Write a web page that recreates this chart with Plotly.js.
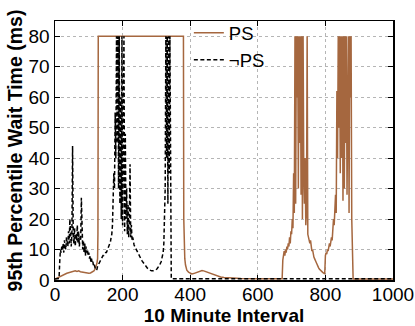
<!DOCTYPE html>
<html>
<head>
<meta charset="utf-8">
<script src="https://cdn.plot.ly/plotly-3.0.1.min.js"></script>
<style>html,body{margin:0;padding:0;background:#fff;}#chart{width:415px;height:326px;}</style>
</head>
<body>
<div id="chart"></div>
<script>
// PS series (brown, solid)
const psX = [0,5,10,15,20,25,30,35,40,45,50,55,60,65,70,75,80,85,90,95,100,105,110,115,118,121,124,126,127,128,
  200,300,380,381,382,384,386,388,390,395,400,405,410,415,420,425,430,435,440,445,450,460,470,480,490,500,520,550,600,650,672,
  674,676,678,680,682,684,686,688,690,692,694,696,698,700,702,704,706,708,710,712,714,716,718,720,722,724,726,728,730,732,734,736,738,740,742,744,746,748,750,
  752,754,756,758,760,762,764,766,768,770,772,774,776,778,780,782,784,786,788,790,792,794,796,798,
  800,802,804,806,808,810,812,814,816,818,820,822,824,826,828,830,832,834,836,838,840,842,844,846,848,850,852,854,856,858,860,862,864,866,868,870,872,874,876,878,880,882,
  900,950,1000];
const psY = [0.3,0.6,0.9,1.2,1.5,1.8,2.0,2.2,2.4,2.6,2.8,2.9,3.0,2.8,3.0,2.7,2.6,2.5,2.3,2.2,2.2,2.3,2.6,3.0,3.5,4.5,5.5,7,15,80,
  80,80,80,20,9,7,5,3.8,3.2,2.6,2.2,2.0,2.1,2.3,2.6,2.8,3.0,3.1,3.0,2.8,2.5,2.0,1.6,1.2,1.0,0.8,0.6,0.5,0.45,0.4,0.4,
  6.5,8,9.5,8,10,9,11,10,12,11,14,12,16,15,20,17,35,22,80,25,80,60,80,30,80,45,80,28,80,20,80,35,25,40,18,22,80,15,14,
  13,12,13,10,9.5,10,8,7.5,7,6,6,5.5,4.8,4.5,4,3.6,3.3,3,2.8,2.6,2.5,2.3,2.2,2.0,
  8,9,8.5,10,9.5,11,12,11,13,14,13,17,20,18,25,28,22,62,40,80,50,80,35,80,40,80,26,80,30,80,45,80,28,80,80,22,80,60,80,20,7,0.3,
  0.3,0.3,0.3];

// not-PS series (black, dashed)
const npsX = [0,5,10,12,14,16,18,20,22,24,26,28,30,32,34,36,38,40,42,44,46,48,50,52,54,56,58,60,62,64,66,68,70,72,74,76,78,80,82,84,86,88,90,92,94,96,98,
  100,102,104,106,108,110,112,114,116,118,120,122,124,126,128,130,132,134,136,138,140,142,144,146,148,150,152,154,156,158,160,162,164,166,168,170,
  172,174,176,178,180,182,184,186,188,190,192,194,196,198,200,202,204,206,208,210,212,214,216,218,220,222,224,226,228,230,
  232,234,236,238,240,242,244,246,248,250,254,258,262,266,270,274,278,282,286,290,294,298,302,306,310,314,318,320,322,324,
  326,328,330,332,334,336,338,340,342,343,344,400,500,600,700,800,900,1000];
const npsY = [0.3,0.3,0.4,0.5,6,10,9,11,10,12,9,13,11,10,14,12,11,16,12,20,13,11,15,44,14,12,17,11,15,13,18,12,16,11,14,13,27,12,10,13,9,12,8,11,9,10,8,
  9,7,8,6,7,5.5,6,4.5,5,4,3.5,3.2,3.5,4.5,5,5.5,5.5,6.5,6.5,7,7.5,8,8,8.5,8.5,9,9,9.5,10,10.5,11,12,12.5,14,15,18,
  24,35,30,55,40,80,45,80,30,80,25,60,20,80,18,45,80,16,48,20,30,15,25,14,20,38,14,18,13,14,
  12,11.5,11,10.5,10,9.8,9.5,9,8.5,8,7,6.2,5.5,4.8,4.3,3.8,3.4,3.1,3.0,3.0,3.1,3.3,3.7,4.3,5,6,7.5,9,12,18,
  30,80,40,80,25,80,35,80,20,12,0.4,0.4,0.4,0.4,0.4,0.4,0.4,0.4];

const seriesNames = ['PS', '\u00acPS'];
const xTicks = [0,200,400,600,800,1000];
const yTicks = [0,10,20,30,40,50,60,70,80];

const FONT = 'Liberation Sans, Arial, Helvetica, sans-serif';

const traces = [
  {x: psX, y: psY, name: seriesNames[0], type: 'scatter', mode: 'lines',
   line: {color: '#A5673F', width: 1.5}},
  {x: npsX, y: npsY, name: seriesNames[1], type: 'scatter', mode: 'lines',
   line: {color: '#000000', width: 1.5, dash: '4px,2.5px'}}
];

const axisCommon = {
  showline: true, linecolor: '#000', linewidth: 1.5, mirror: 'ticks',
  ticks: 'inside', ticklen: 5, tickwidth: 1, tickcolor: '#000',
  showgrid: true, gridcolor: '#b5b5b5', gridwidth: 1, griddash: 'dot',
  zeroline: false, tickfont: {family: FONT, size: 19, color: '#000'}
};

const layout = {
  width: 415, height: 326,
  margin: {l: 55, r: 22, t: 21, b: 46},
  paper_bgcolor: '#fff', plot_bgcolor: '#fff',
  showlegend: true,
  legend: {x: 0.396, xanchor: 'left', y: 1.026, yanchor: 'top', bgcolor: 'rgba(0,0,0,0)',
           borderwidth: 0, font: {family: FONT, size: 18.5, color: '#000'}},
  shapes: [{type: 'rect', xref: 'paper', yref: 'paper', x0: 0.395, x1: 0.615, y0: 0.776, y1: 0.978,
            fillcolor: '#fff', line: {width: 0}, layer: 'between'}],
  xaxis: Object.assign({}, axisCommon, {
    range: [0, 1000], tickvals: xTicks, ticktext: xTicks.map(String), ticklabelstandoff: -3,
    title: {text: '<b>10 Minute Interval</b>', font: {family: FONT, size: 19, color: '#000'}, standoff: 0}
  }),
  yaxis: Object.assign({}, axisCommon, {
    range: [0, 85], tickvals: yTicks, ticktext: yTicks.map(String),
    title: {text: '<b>95th Percentile Wait Time (ms)</b>', font: {family: FONT, size: 19.5, color: '#000'}, standoff: 0}
  })
};

Plotly.newPlot('chart', traces, layout, {displayModeBar: false, staticPlot: true});
</script>
</body>
</html>
